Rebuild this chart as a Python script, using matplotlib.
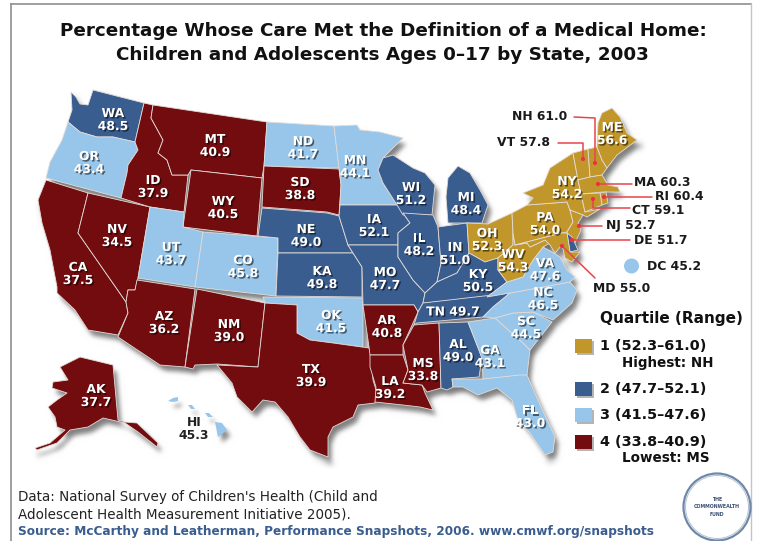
import numpy as np
import matplotlib
matplotlib.use("Agg")
import matplotlib.pyplot as plt
from matplotlib.patches import Polygon, Circle, Rectangle
from matplotlib.collections import PatchCollection
import matplotlib.patheffects as pe

plt.rcParams['font.family'] = ['DejaVu Sans']

# ---- data -------------------------------------------------------------
states = ["WA","OR","CA","NV","ID","MT","WY","UT","AZ","NM","CO","ND","SD","NE","KA","OK","TX",
          "MN","IA","MO","AR","LA","WI","IL","MI","IN","OH","KY","TN","MS","AL","GA","FL","SC","NC",
          "VA","WV","PA","NY","VT","NH","ME","MA","RI","CT","NJ","DE","MD","AK","HI","DC"]
values = [48.5,43.4,37.5,34.5,37.9,40.9,40.5,43.7,36.2,39.0,45.8,41.7,38.8,49.0,49.8,41.5,39.9,
          44.1,52.1,47.7,40.8,39.2,51.2,48.2,48.4,51.0,52.3,50.5,49.7,33.8,49.0,43.1,43.0,44.5,46.5,
          47.6,54.3,54.0,54.2,57.8,61.0,56.6,60.3,60.4,59.1,52.7,51.7,55.0,37.7,45.3,45.2]
quartile_names = ["1 (52.3\u201361.0)", "2 (47.7\u201352.1)", "3 (41.5\u201347.6)", "4 (33.8\u201340.9)"]
quartile_low = [52.3, 47.7, 41.5, 33.8]
value_of = dict(zip(states, values))

# ---- styles / geometry ------------------------------------------------
colors = ["#C1972C", "#3A5D8F", "#97C6EA", "#720C0F"]
def color_for(v):
    for low, c in zip(quartile_low, colors):
        if v >= low:
            return c
    return colors[-1]

outline = {
"WA":[(71,92),(76,97),(80,104),(88,105),(93,90),(144,103),(135,142),(113,137),(97,137),(80,132),(68,122),(72,110)],
"OR":[(68,122),(80,132),(97,137),(113,137),(135,142),(138,150),(128,165),(127,173),(121,198),(46,178),(50,162),(62,140)],
"CA":[(46,180),(88,193),(78,233),(126,302),(128,313),(118,335),(88,330),(75,310),(57,293),(57,287),(50,250),(42,223),(38,200)],
"NV":[(88,193),(150,207),(138,278),(135,290),(128,290),(126,302),(78,233)],
"ID":[(144,103),(153,105),(151,118),(163,140),(158,153),(167,160),(172,175),(188,175),(184,212),(150,207),(121,198),(127,173),(128,165),(138,150),(135,142)],
"MT":[(153,105),(267,122),(264,166),(262,178),(191,170),(188,175),(172,175),(167,160),(158,153),(163,140),(151,118)],
"WY":[(191,170),(262,178),(257,236),(183,227)],
"UT":[(150,207),(184,212),(183,227),(203,232),(195,287),(138,278)],
"AZ":[(137,280),(195,289),(185,367),(160,365),(118,337),(128,313),(126,302),(128,290),(135,290)],
"NM":[(197,289),(265,303),(258,367),(217,364),(195,365),(193,369),(185,367)],
"CO":[(203,232),(278,238),(276,296),(195,287)],
"ND":[(267,122),(334,126),(339,168),(264,166)],
"SD":[(264,166),(339,169),(341,185),(339,215),(327,212),(262,207)],
"NE":[(262,208),(327,213),(339,216),(348,245),(353,253),(278,253),(278,238),(258,236)],
"KA":[(278,253),(353,253),(362,267),(362,297),(276,296)],
"OK":[(263,297),(363,298),(363,347),(333,343),(310,340),(297,333),(297,305),(265,303)],
"TX":[(265,303),(297,305),(297,333),(310,340),(333,343),(369,348),(371,355),(373,380),(377,393),(375,403),(358,405),(353,417),(333,427),(328,437),(328,457),(310,450),(300,437),(288,417),(275,402),(263,400),(252,412),(237,397),(232,383),(217,365),(258,367)],
"MN":[(334,126),(357,125),(360,130),(380,132),(403,138),(383,158),(378,170),(383,183),(397,205),(340,205),(341,185),(339,168)],
"IA":[(340,205),(400,205),(403,213),(410,223),(398,233),(398,245),(348,245),(339,216)],
"MO":[(348,245),(398,245),(398,257),(413,280),(425,293),(423,303),(418,312),(414,305),(363,305),(362,267),(353,253)],
"AR":[(363,305),(414,305),(418,312),(403,345),(403,355),(370,355),(369,347)],
"LA":[(370,355),(403,355),(408,370),(403,383),(422,385),(425,393),(433,410),(420,407),(403,405),(375,402),(376,387),(370,367)],
"WI":[(383,158),(393,155),(413,168),(425,173),(435,185),(432,215),(403,215),(397,205),(383,183),(378,170)],
"IL":[(403,213),(433,215),(438,227),(441,263),(437,282),(425,293),(413,280),(398,257),(398,233),(410,223)],
"MI":[(448,178),(458,166),(470,173),(480,190),(488,205),(482,223),(448,223),(446,197)],
"IN":[(438,227),(467,223),(469,253),(457,273),(437,282),(441,263)],
"OH":[(467,223),(488,224),(512,213),(513,233),(513,245),(498,258),(485,262),(469,253)],
"KY":[(437,282),(457,273),(469,253),(485,262),(498,258),(498,270),(507,282),(487,297),(425,303),(423,303),(425,293)],
"TN":[(423,303),(510,293),(493,307),(483,317),(417,323),(414,325),(418,312)],
"MS":[(414,325),(439,323),(441,388),(427,392),(422,385),(403,383),(408,370),(403,345)],
"AL":[(439,323),(468,322),(482,358),(479,377),(452,379),(453,387),(447,390),(441,388)],
"GA":[(468,322),(495,318),(523,343),(530,350),(527,375),(483,379),(482,358)],
"FL":[(452,379),(483,379),(520,375),(527,375),(537,398),(555,437),(553,452),(545,455),(530,433),(517,417),(512,400),(497,388),(478,395),(463,387),(453,387)],
"SC":[(495,318),(513,313),(533,312),(552,322),(530,350),(523,343)],
"NC":[(510,293),(570,282),(577,290),(572,303),(553,320),(533,312),(513,313),(495,318),(483,317),(493,307)],
"VA":[(487,297),(510,293),(570,282),(575,277),(567,270),(560,257),(552,252),(543,247),(533,260),(523,277),(507,282)],
"WV":[(498,258),(498,270),(507,282),(523,277),(533,260),(543,247),(550,243),(545,240),(530,247),(527,243),(515,245),(513,233),(513,245)],
"PA":[(512,213),(527,205),(567,202),(570,210),(573,222),(567,232),(562,233),(515,245),(513,233)],
"NY":[(527,205),(533,198),(523,193),(543,185),(550,168),(573,153),(578,180),(581,194),(585,212),(600,209),(587,217),(583,215),(570,210),(567,202)],
"VT":[(573,153),(588,149),(590,177),(578,180)],
"NH":[(588,149),(597,147),(602,160),(607,168),(602,175),(590,177)],
"ME":[(602,113),(612,108),(620,117),(627,133),(637,140),(617,155),(607,168),(602,160),(597,147),(598,123)],
"MA":[(578,180),(590,177),(602,175),(608,185),(618,187),(620,192),(607,192),(603,192),(581,194)],
"RI":[(600,193),(606,192),(608,203),(602,205)],
"CT":[(581,194),(600,193),(602,205),(585,212)],
"NJ":[(570,210),(583,215),(578,223),(581,230),(573,247),(567,232),(573,222)],
"DE":[(567,233),(572,237),(578,250),(570,252)],
"MD":[(515,245),(562,233),(567,233),(570,252),(580,252),(572,262),(565,258),(562,245),(555,253),(550,245),(545,240),(530,247),(527,243)],
"AK":[(60,367),(80,357),(113,365),(118,420),(125,422),(137,423),(158,443),(157,447),(138,432),(125,423),(103,418),(88,427),(70,430),(57,443),(37,450),(35,448),(50,443),(65,430),(57,427),(55,417),(48,407),(57,400),(67,393),(52,388),(53,382),(68,380)],
}
hawaii = [[(215,422),(222,423),(227,430),(218,437)],
          [(168,401),(173,398),(178,397),(178,401),(173,402)],
          [(188,405),(192,405),(195,409),(191,409)],
          [(205,413),(209,413),(213,417),(208,417)]]

label_xy = {"WA":(113,120),"OR":(89,163),"CA":(78,274),"NV":(117,236),"ID":(153,187),"MT":(215,146),
"WY":(223,208),"UT":(171,254),"AZ":(164,323),"NM":(229,331),"CO":(243,267),"ND":(303,148),"SD":(300,189),
"NE":(306,236),"KA":(322,278),"OK":(331,322),"TX":(311,376),"MN":(355,167),"IA":(374,226),"MO":(385,279),
"AR":(387,327),"LA":(390,388),"WI":(411,194),"IL":(419,245),"MI":(466,204),"IN":(455,254),"OH":(487,240),
"KY":(478,281),"MS":(423,370),"AL":(458,351),"GA":(490,357),"FL":(530,417),"SC":(526,328),"NC":(543,299),
"VA":(545,270),"WV":(513,261),"PA":(545,224),"NY":(567,188),"ME":(612,134),"AK":(96,396)}

callouts = {
"NH":([(574,117),(595,118),(595,163)],(512,117)),
"VT":([(558,143),(583,143),(583,159)],(497,143)),
"MA":([(598,184),(632,184)],(634,183)),
"RI":([(604,197),(652,197)],(655,197)),
"CT":([(593,199),(593,208),(630,208)],(632,210)),
"NJ":([(579,226),(602,226)],(606,226)),
"DE":([(572,240),(630,240)],(634,240)),
"MD":([(562,246),(595,278)],(593,288)),
}

def soft_blur(im, dpi):
    pad = 20
    out = np.pad(im, ((pad, pad), (pad, pad), (0, 0)), mode="constant")
    k = np.exp(-0.5 * (np.arange(-9, 10) / 3.0) ** 2)
    k /= k.sum()
    for axis in (0, 1):
        out = np.apply_along_axis(lambda m: np.convolve(m, k, mode="same"), axis, out)
    return out, -pad, -pad

fig = plt.figure(figsize=(7.6, 5.41), dpi=100)
ax = fig.add_axes([0, 0, 1, 1])
ax.set_xlim(0, 760); ax.set_ylim(541, 0); ax.axis("off")

# frame
ax.plot([11, 11], [4, 541], color="#8f8f8f", lw=1.2)
ax.plot([11, 751], [4, 4], color="#8f8f8f", lw=1.2)
ax.plot([751, 751], [4, 541], color="#c4c4c4", lw=1.0)

# soft drop shadow
all_shapes = list(outline.values()) + hawaii
shade = PatchCollection([Polygon([(x + 4, y + 6) for x, y in pts], closed=True) for pts in all_shapes],
                        facecolor="#555555", edgecolor="#555555", linewidth=1, alpha=0.75, zorder=1)
shade.set_agg_filter(soft_blur)
shade.set_rasterized(True)
ax.add_collection(shade)

for s, pts in outline.items():
    ax.add_patch(Polygon(pts, closed=True, fc=color_for(value_of[s]), ec="#E4DCD8", lw=0.6, zorder=2, joinstyle="round"))
for pts in hawaii:
    ax.add_patch(Polygon(pts, closed=True, fc=color_for(value_of["HI"]), ec="none", zorder=2))

txt_fx = [pe.SimplePatchShadow(offset=(1.1, -1.1), shadow_rgbFace="#000000", alpha=0.55), pe.Normal()]
LBL = 8.9
for s, (x, y) in label_xy.items():
    ax.text(x, y, f"{s}\n{value_of[s]:.1f}", ha="center", va="center", fontsize=LBL, fontweight="bold",
            color="white", linespacing=1.0, zorder=5, path_effects=txt_fx)
ax.text(453, 312, f"TN {value_of['TN']:.1f}", ha="center", va="center", fontsize=LBL, fontweight="bold",
        color="white", zorder=5, path_effects=txt_fx)
ax.text(194, 429, f"HI\n{value_of['HI']:.1f}", ha="center", va="center", fontsize=LBL, fontweight="bold",
        color="#222222", linespacing=1.0, zorder=5)

for s, (line, (tx, ty)) in callouts.items():
    xs, ys = zip(*line)
    ax.plot(xs, ys, color="#E8444A", lw=1.1, zorder=6, solid_capstyle="round")
    dot = line[-1] if s in ("NH", "VT") else line[0]
    ax.add_patch(Circle(dot, 2.1, fc="#E8343A", ec="none", zorder=6))
    ax.text(tx, ty, f"{s} {value_of[s]:.1f}", ha="left", va="center", fontsize=LBL, fontweight="bold",
            color="#1a1a1a", zorder=6)

# DC
ax.add_patch(Circle((631.5, 266), 7.5, fc=color_for(value_of["DC"]), ec="none", zorder=3))
ax.text(647, 266, f"DC {value_of['DC']:.1f}", ha="left", va="center", fontsize=LBL, fontweight="bold", color="#1a1a1a")

# title
ax.text(383, 31, "Percentage Whose Care Met the Definition of a Medical Home:", ha="center", va="center",
        fontsize=13.2, fontweight="bold", color="#111111")
ax.text(382, 55, "Children and Adolescents Ages 0\u201317 by State, 2003", ha="center", va="center",
        fontsize=13.2, fontweight="bold", color="#111111")

# legend
ax.text(671.5, 319, "Quartile (Range)", ha="center", va="center", fontsize=11, fontweight="bold", color="#111111")
rows_y = [346, 389, 415, 442]
for name, c, y in zip(quartile_names, colors, rows_y):
    ax.add_patch(Rectangle((577, y - 5), 17, 14, fc="#777777", ec="none", alpha=.55, zorder=2))
    ax.add_patch(Rectangle((575, y - 7), 17, 14, fc=c, ec="none", zorder=3))
    ax.text(600, y, name, ha="left", va="center", fontsize=10.4, fontweight="bold", color="#111111")
ax.text(622, 363, "Highest: NH", ha="left", va="center", fontsize=9.75, fontweight="bold", color="#111111")
ax.text(622, 458, "Lowest: MS", ha="left", va="center", fontsize=9.75, fontweight="bold", color="#111111")

# footer
ax.text(18, 497, "Data: National Survey of Children's Health (Child and", ha="left", va="center", fontsize=9.75, color="#222222")
ax.text(18, 514, "Adolescent Health Measurement Initiative 2005).", ha="left", va="center", fontsize=9.75, color="#222222")
ax.text(18, 531, "Source: McCarthy and Leatherman, Performance Snapshots, 2006. www.cmwf.org/snapshots",
        ha="left", va="center", fontsize=8.75, fontweight="bold", color="#3A5D8F")

# logo
ax.add_patch(Circle((717, 507), 33.5, fc="white", ec="#6F88A8", lw=1.6, zorder=4))
ax.add_patch(Circle((717, 507), 31.5, fc="white", ec="#B5C3D4", lw=0.7, zorder=4))
ax.text(717, 507, "THE\nCOMMONWEALTH\nFUND", ha="center", va="center", fontsize=3.4, fontweight="bold",
        color="#3A4F70", linespacing=1.7, zorder=5)

fig.savefig("out.png", dpi=100)
